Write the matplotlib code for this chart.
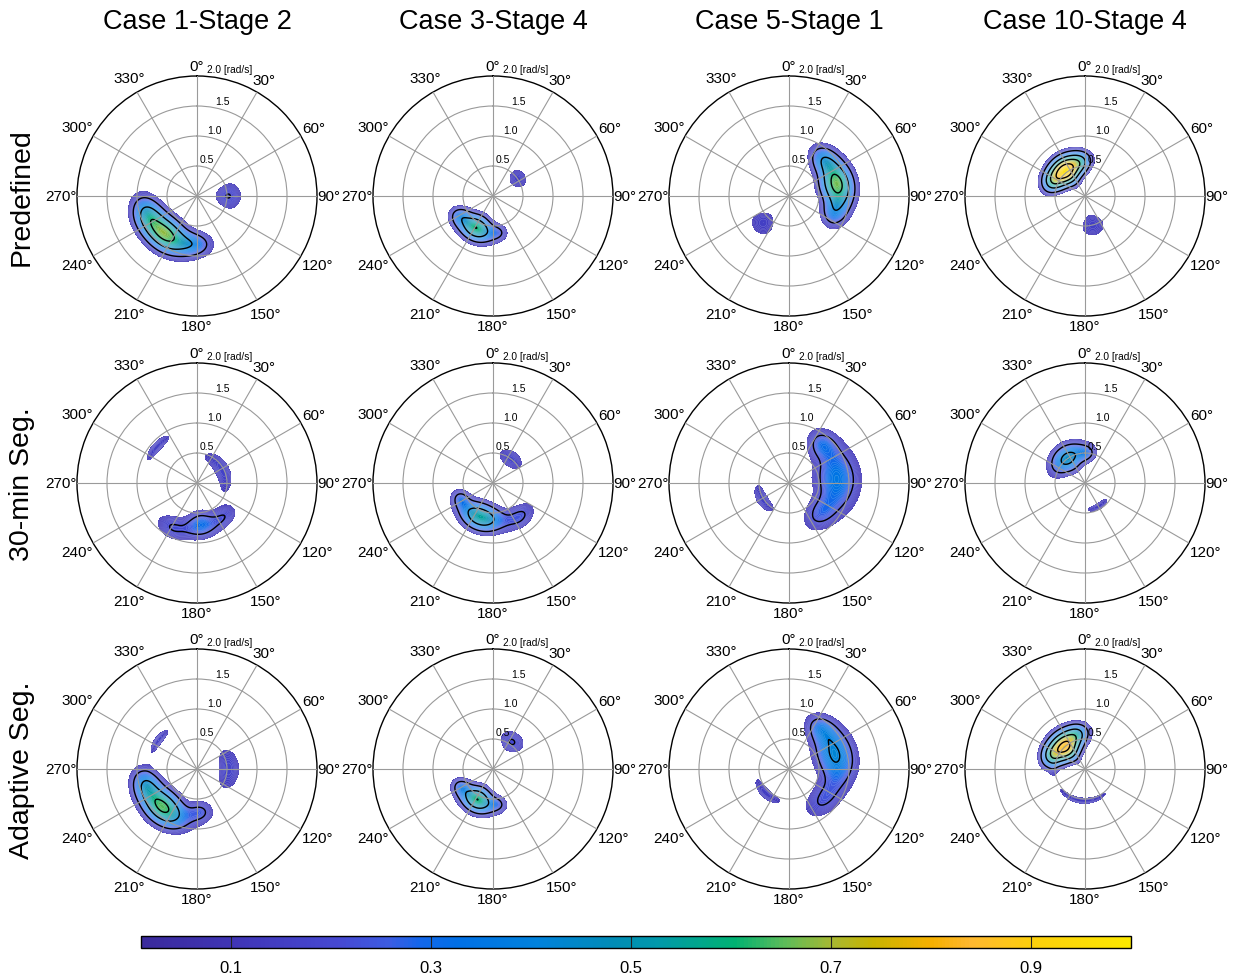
import numpy as np
import matplotlib
matplotlib.use("Agg")
import matplotlib.pyplot as plt
from matplotlib.colors import LinearSegmentedColormap, Normalize
from matplotlib.cm import ScalarMappable
from matplotlib.transforms import offset_copy

plt.rcParams['font.family'] = ['Liberation Sans', 'DejaVu Sans']

cases = ["Case 1-Stage 2", "Case 3-Stage 4", "Case 5-Stage 1", "Case 10-Stage 4"]
methods = ["Predefined", "30-min Seg.", "Adaptive Seg."]

# density lobes: (direction [deg], speed [rad/s], peak, spread [deg], spread [rad/s])
case1_predefined = [(220, 0.82, 0.66, 22, 0.19), (252, 0.90, 0.28, 14, 0.17),
                    (180, 0.80, 0.22, 14, 0.14), (90, 0.52, 0.204, 18, 0.17)]
case3_predefined = [(208, 0.60, 0.60, 20, 0.15), (240, 0.66, 0.18, 10, 0.12),
                    (170, 0.62, 0.14, 10, 0.10), (55, 0.50, 0.16, 16, 0.13)]
case5_predefined = [(76, 0.82, 0.66, 20, 0.19), (42, 0.84, 0.25, 12, 0.15),
                    (112, 0.80, 0.22, 12, 0.15), (224, 0.62, 0.16, 16, 0.18)]
case10_predefined = [(322, 0.53, 0.95, 22, 0.16), (292, 0.60, 0.25, 12, 0.12),
                     (355, 0.58, 0.22, 12, 0.12), (165, 0.50, 0.16, 19, 0.17)]

case1_30min = [(312, 0.90, 0.16, 17, 0.07), (62, 0.47, 0.17, 44, 0.11),
               (175, 0.70, 0.30, 16, 0.16), (210, 0.85, 0.19, 14, 0.14),
               (140, 0.72, 0.17, 14, 0.12)]
case3_30min = [(200, 0.60, 0.55, 26, 0.16), (140, 0.72, 0.20, 16, 0.13),
               (245, 0.60, 0.16, 10, 0.10), (37, 0.50, 0.17, 22, 0.12)]
case5_30min = [(84, 0.80, 0.35, 28, 0.26), (40, 0.85, 0.20, 12, 0.16),
               (135, 0.72, 0.20, 18, 0.17), (238, 0.52, 0.16, 28, 0.09)]
case10_30min = [(325, 0.50, 0.46, 26, 0.16), (5, 0.50, 0.15, 12, 0.10),
                (150, 0.45, 0.14, 28, 0.06)]

case1_adaptive = [(307, 0.80, 0.16, 16, 0.06), (90, 0.53, 0.18, 32, 0.15),
                  (222, 0.85, 0.64, 21, 0.19), (255, 0.90, 0.25, 12, 0.16),
                  (175, 0.72, 0.20, 12, 0.13)]
case3_adaptive = [(207, 0.57, 0.60, 20, 0.15), (242, 0.62, 0.18, 10, 0.11),
                  (170, 0.60, 0.14, 10, 0.10), (35, 0.55, 0.21, 16, 0.13)]
case5_adaptive = [(72, 0.80, 0.42, 26, 0.23), (38, 0.86, 0.18, 12, 0.14),
                  (132, 0.76, 0.20, 20, 0.17), (224, 0.56, 0.15, 30, 0.08)]
case10_adaptive = [(318, 0.50, 0.86, 24, 0.17), (290, 0.62, 0.22, 12, 0.11),
                   (350, 0.62, 0.20, 12, 0.11), (185, 0.53, 0.14, 55, 0.055)]

panels = [
    [case1_predefined, case3_predefined, case5_predefined, case10_predefined],
    [case1_30min, case3_30min, case5_30min, case10_30min],
    [case1_adaptive, case3_adaptive, case5_adaptive, case10_adaptive],
]

cbar_ticks = [0.1, 0.3, 0.5, 0.7, 0.9]
ring_values = [0.5, 1.0, 1.5]

cmap = LinearSegmentedColormap.from_list("wave", [
    (0.00, "#3a2a9c"), (0.10, "#4036b8"), (0.20, "#4649d2"), (0.25, "#3c5ce2"),
    (0.28, "#1466ea"), (0.32, "#0070e6"), (0.40, "#0082dc"), (0.48, "#008cb4"),
    (0.52, "#0098ac"), (0.60, "#00b272"), (0.65, "#5cbc5a"), (0.70, "#a8b830"),
    (0.74, "#c8b400"), (0.80, "#f6b000"), (0.84, "#ffb830"), (0.90, "#fcce0c"),
    (1.00, "#fce800")])
norm = Normalize(0.01, 1.0)

W, H = 1233, 979
fig = plt.figure(figsize=(W / 100, H / 100), dpi=100)

col_x = [197, 493, 789, 1085]
row_y = [197, 484, 770]
R_PX = 120

theta = np.linspace(0, 2 * np.pi, 721)
rad = np.linspace(0, 2.0, 301)
T, Rr = np.meshgrid(theta, rad)

fill_levels = np.arange(0.1, 1.0001, 0.01)
line_levels = [0.2, 0.4, 0.6, 0.8]


def density(lobes):
    z = np.zeros_like(T)
    for d, s, a, sd, ss in lobes:
        dt = np.angle(np.exp(1j * (T - np.deg2rad(d))))
        z += a * np.exp(-0.5 * (dt / np.deg2rad(sd)) ** 2 - 0.5 * ((Rr - s) / ss) ** 2)
    return z


def theta_label(ax, deg):
    # keep the label box just outside the rim
    t = np.deg2rad(deg)
    w = 8.5 * len(str(deg)) + 6.1
    h = 13
    ext = 0.3 + 3 * abs(np.cos(t)) + 0.5 * w * abs(np.sin(t)) + 0.5 * h * abs(np.cos(t))
    tr = offset_copy(ax.transData, fig=fig, x=ext * np.sin(t), y=ext * np.cos(t), units='dots')
    ax.text(t, 2.0, f"{deg}°", transform=tr, ha='center', va='center', fontsize=11)


for i, row in enumerate(panels):
    for j, lobes in enumerate(row):
        cx, cy = col_x[j], row_y[i]
        rect = [(cx - R_PX) / W, 1 - (cy + R_PX) / H, 2 * R_PX / W, 2 * R_PX / H]
        ax = fig.add_axes(rect, projection='polar')
        ax.set_theta_zero_location('N')
        ax.set_theta_direction(-1)

        z = density(lobes)
        ax.contourf(T, Rr, z, levels=fill_levels, cmap=cmap, norm=norm, zorder=1)
        ax.contour(T, Rr, z, levels=fill_levels, colors='white', linewidths=0.3,
                   alpha=0.32, zorder=1.2)
        ax.contour(T, Rr, z, levels=line_levels, colors='black', linewidths=1.0, zorder=1.5)

        ax.set_ylim(0, 2.0)
        ax.set_xticks(np.deg2rad(np.arange(0, 360, 30)))
        ax.set_yticks(ring_values)
        ax.set_xticklabels([])
        ax.set_yticklabels([])
        ax.tick_params(length=0)
        ax.grid(True, color='#9a9a9a', linewidth=0.8)
        ax.set_axisbelow(False)
        ax.spines['polar'].set_color('black')
        ax.spines['polar'].set_linewidth(1.0)

        for deg in range(0, 360, 30):
            theta_label(ax, deg)
        for rv in ring_values:
            ax.text(np.deg2rad(15), rv + 0.14, f"{rv:.1f}", ha='center', va='center',
                    fontsize=7.5)
        ax.text(np.deg2rad(14.6), 2.19, "2.0 [rad/s]", ha='center', va='center',
                fontsize=7.3)

for j, name in enumerate(cases):
    fig.text(col_x[j] / W, 1 - 22 / H, name, ha='center', va='center', fontsize=19.5)
for i, name in enumerate(methods):
    fig.text(22 / W, 1 - row_y[i] / H, name, ha='center', va='center', rotation=90,
             fontsize=20.5)

cax = fig.add_axes([141 / W, 1 - 949 / H, 990 / W, 12 / H])
cb = fig.colorbar(ScalarMappable(norm=norm, cmap=cmap), cax=cax, orientation='horizontal')
cb.set_ticks(cbar_ticks)
cb.set_ticklabels([f"{v:.1f}" for v in cbar_ticks])
cax.tick_params(direction='in', length=8.6, width=0.8, color='#222222', labelsize=12, pad=9)
cb.outline.set_linewidth(1.0)

fig.savefig("out.png", dpi=100)
